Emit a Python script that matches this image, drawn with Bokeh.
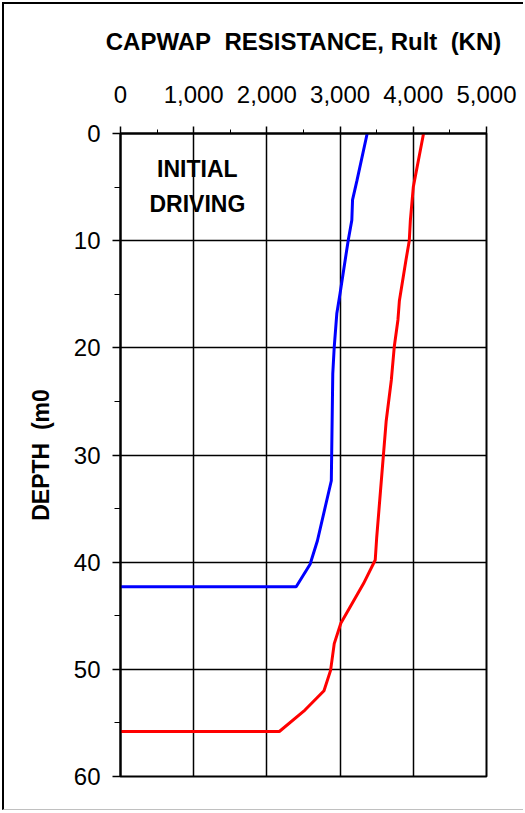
from bokeh.plotting import figure
from bokeh.models import Range1d, NumeralTickFormatter, FixedTicker
from bokeh.core.properties import value
from bokeh.embed import file_html
from bokeh.resources import INLINE

# Data
blue_depth = [0, 4.4, 6.2, 8.1, 10, 14.9, 16.8, 19.9, 22.4, 32.4, 38, 40.2, 42.3, 42.3]
blue_rult = [3370, 3230, 3170, 3160, 3110, 3000, 2955, 2920, 2900, 2880, 2690, 2590, 2400, 0]

red_depth = [0, 5, 8.1, 10, 11.8, 15.6, 17.4, 19.9, 23, 26.8, 37.7, 39.8, 42, 45.7, 47.6, 50.1, 52, 53.8, 55.8, 55.8]
red_rult = [4140, 4000, 3960, 3945, 3900, 3810, 3790, 3740, 3700, 3630, 3500, 3480, 3320, 3010, 2920, 2870, 2780, 2520, 2170, 0]

x_ticks = [0, 1000, 2000, 3000, 4000, 5000]
x_minor = [500, 1500, 2500, 3500, 4500]
y_ticks = [0, 10, 20, 30, 40, 50, 60]
y_minor = [5, 15, 25, 35, 45, 55]

note_lines = ["INITIAL", "DRIVING"]
note_x = [1050, 1050]
note_y = [3.3, 6.6]

x_title = "CAPWAP\u00a0 RESISTANCE, Rult\u00a0 (KN)"
y_title = "DEPTH\u00a0 (m0"

FONT = "Liberation Sans"

p = figure(width=521, height=808, output_backend="svg", toolbar_location=None,
           x_range=Range1d(0, 5000), y_range=Range1d(60, 0),
           x_axis_location="above",
           min_border_left=116, min_border_right=39, min_border_top=129, min_border_bottom=36)
p.styles = {"border-left": "2px solid black", "border-top": "2px solid black",
            "border-bottom": "1px solid #c0c0c0", "margin-left": "2px", "margin-top": "2px"}

p.outline_line_color = "black"
p.outline_line_width = 2
p.background_fill_color = "white"
p.border_fill_color = "white"

xa = p.xaxis[0]
xa.ticker = FixedTicker(ticks=x_ticks, minor_ticks=x_minor)
xa.formatter = NumeralTickFormatter(format="0,0")
xa.axis_label = x_title
xa.axis_label_text_font = FONT
xa.axis_label_text_font_style = "bold"
xa.axis_label_text_font_size = "24px"
xa.axis_label_text_color = "black"
xa.axis_label_standoff = 28
xa.major_label_text_font = FONT
xa.major_label_text_font_size = "24px"
xa.major_label_text_color = "black"
xa.major_label_standoff = 24
xa.major_tick_out = 7
xa.major_tick_in = 0
xa.minor_tick_out = 4
xa.minor_tick_in = 0
xa.axis_line_width = 2
xa.major_tick_line_width = 1.5

ya = p.yaxis[0]
ya.ticker = FixedTicker(ticks=y_ticks, minor_ticks=y_minor)
ya.axis_label = y_title
ya.axis_label_text_font = FONT
ya.axis_label_text_font_style = "bold"
ya.axis_label_text_font_size = "23px"
ya.axis_label_text_color = "black"
ya.axis_label_standoff = 17
ya.major_label_text_font = FONT
ya.major_label_text_font_size = "24px"
ya.major_label_text_color = "black"
ya.major_label_standoff = 12
ya.major_tick_out = 8
ya.major_tick_in = 0
ya.minor_tick_out = 6
ya.minor_tick_in = 0
ya.axis_line_width = 2
ya.major_tick_line_width = 1.5

p.xgrid.ticker = FixedTicker(ticks=x_ticks)
p.ygrid.ticker = FixedTicker(ticks=y_ticks)
p.grid.grid_line_color = "black"
p.grid.grid_line_width = 1.5
p.grid.grid_line_alpha = 1.0

p.line(blue_rult, blue_depth, line_color="#0000FF", line_width=3)
p.line(red_rult, red_depth, line_color="#FF0000", line_width=3)

p.text(x=note_x, y=note_y, text=note_lines, text_font=value(FONT), text_font_style="bold",
       text_font_size="23px", text_align="center", text_baseline="middle", text_color="black")

open("out.html", "w").write(file_html(p, INLINE))
